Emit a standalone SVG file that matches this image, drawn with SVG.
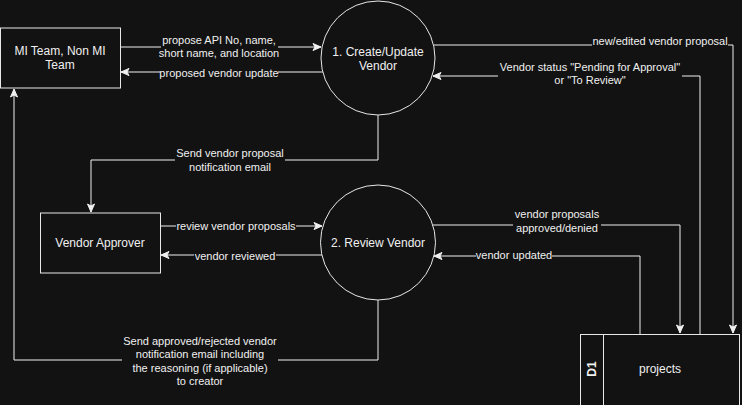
<svg xmlns="http://www.w3.org/2000/svg" width="742" height="405" viewBox="0 0 742 405">
<style>
.node{fill:#121212;stroke:#e8e8e8;stroke-width:1}
.nt{font-family:"Liberation Sans",Arial,sans-serif;font-size:12px;fill:#f0f0f0;text-anchor:middle}
.et{font-family:"Liberation Sans",Arial,sans-serif;font-size:11px;fill:#f0f0f0;text-anchor:middle}
.e{fill:none;stroke:#f0f0f0;stroke-width:1}
.lb{fill:#121212}
</style>
<defs>
<marker id="ah" markerUnits="userSpaceOnUse" markerWidth="10" markerHeight="10" viewBox="0 0 10 10" refX="9" refY="5" orient="auto">
<path d="M1,1.5 L9,5 L1,8.5 L3,5 Z" fill="#f0f0f0" stroke="#f0f0f0" stroke-width="1"/>
</marker>
</defs>
<rect width="742" height="405" fill="#121212"/>
<g id="connectors">
<path class="e" d="M120,47 H321" marker-end="url(#ah)"/>
<path class="e" d="M323,72 H121" marker-end="url(#ah)"/>
<path class="e" d="M434,45 H733 V333" marker-end="url(#ah)"/>
<path class="e" d="M700,334 V76 H433" marker-end="url(#ah)"/>
<path class="e" d="M378,115 V160 H91 V212" marker-end="url(#ah)"/>
<path class="e" d="M160,226 H322" marker-end="url(#ah)"/>
<path class="e" d="M322,255 H161" marker-end="url(#ah)"/>
<path class="e" d="M433,225 H680 V333" marker-end="url(#ah)"/>
<path class="e" d="M640,334 V256 H434" marker-end="url(#ah)"/>
<path class="e" d="M378,300 V360 H14 V89" marker-end="url(#ah)"/>
<g id="labels">
<rect class="lb" x="161" y="34" width="117" height="26"/>
<text class="et" x="219" y="44">propose API No, name,</text>
<text class="et" x="219" y="57">short name, and location</text>
<rect class="lb" x="160" y="66" width="118" height="13"/>
<text class="et" x="219" y="77">proposed vendor update</text>
<rect class="lb" x="592" y="35" width="136" height="13"/>
<text class="et" x="660" y="45">new/edited vendor proposal</text>
<rect class="lb" x="498" y="61" width="184" height="26"/>
<text class="et" x="590" y="71">Vendor status "Pending for Approval"</text>
<text class="et" x="590" y="84">or "To Review"</text>
<rect class="lb" x="175" y="147" width="110" height="26"/>
<text class="et" x="230" y="157">Send vendor proposal</text>
<text class="et" x="230" y="171">notification email</text>
<rect class="lb" x="176" y="220" width="120" height="13"/>
<text class="et" x="236" y="230">review vendor proposals</text>
<rect class="lb" x="194" y="249" width="82" height="13"/>
<text class="et" x="235" y="260">vendor reviewed</text>
<rect class="lb" x="513" y="208" width="88" height="26"/>
<text class="et" x="557" y="218">vendor proposals</text>
<text class="et" x="557" y="232">approved/denied</text>
<rect class="lb" x="476" y="249" width="76" height="13"/>
<text class="et" x="514" y="259">vendor updated</text>
<rect class="lb" x="122" y="335" width="156" height="52"/>
<text class="et" x="200" y="345">Send approved/rejected vendor</text>
<text class="et" x="200" y="358">notification email including</text>
<text class="et" x="200" y="372">the reasoning (if applicable)</text>
<text class="et" x="200" y="385">to creator</text>
</g>
</g>
<g id="mi-team">
<rect class="node" x="0.5" y="28" width="120" height="60"/>
<text class="nt" x="60" y="55">MI Team, Non MI</text>
<text class="nt" x="60" y="69">Team</text>
</g>
<g id="create-update-vendor">
<circle class="node" cx="378" cy="58" r="57"/>
<text class="nt" x="378" y="56">1. Create/Update</text>
<text class="nt" x="378" y="70">Vendor</text>
</g>
<g id="vendor-approver">
<rect class="node" x="40.5" y="213" width="120" height="60"/>
<text class="nt" x="100" y="247">Vendor Approver</text>
</g>
<g id="review-vendor">
<circle class="node" cx="378" cy="242.5" r="57.5"/>
<text class="nt" x="378" y="247">2. Review Vendor</text>
</g>
<g id="projects">
<rect class="node" x="580.5" y="334.5" width="159" height="80"/>
<line class="node" x1="603.5" y1="334.5" x2="603.5" y2="405"/>
<text class="nt" font-weight="bold" transform="translate(596,369) rotate(-90)" x="0" y="0">D1</text>
<text class="nt" x="660" y="373">projects</text>
</g>
</svg>
